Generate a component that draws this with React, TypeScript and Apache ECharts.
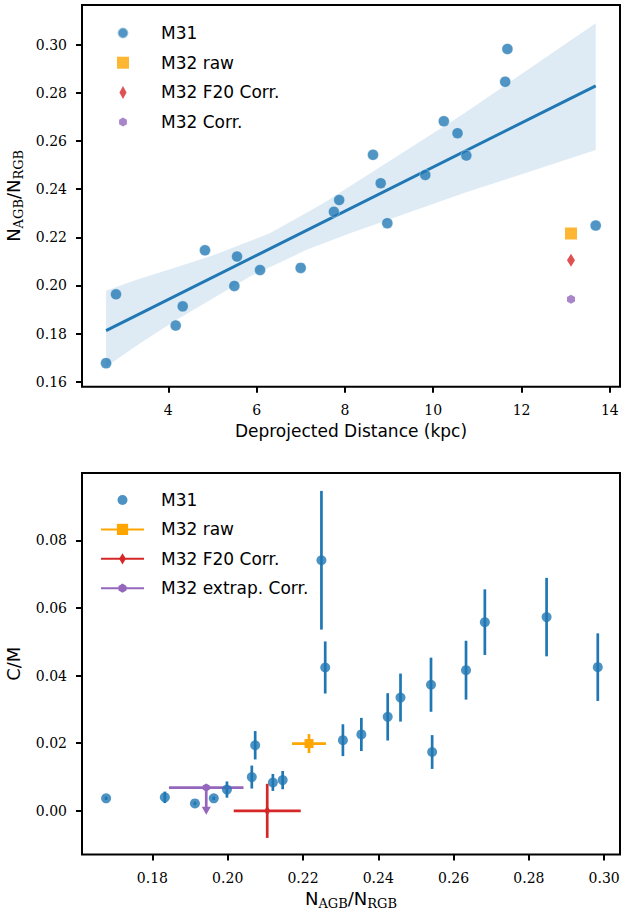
import React, { useEffect, useRef } from "react";
import * as echarts from "echarts";

// ---------- DATA ----------
// M31 fields (sorted by N_AGB/N_RGB)
const m31Distance = [2.59, 4.167, 4.326, 2.815, 5.495, 6.077, 6.998, 5.556, 4.83, 13.68, 8.96, 7.75, 7.87, 8.81, 9.82, 10.75, 8.636, 10.55, 10.24, 11.63, 11.68];
const m31Ratio = [0.1677, 0.1833, 0.1913, 0.1963, 0.1998, 0.2064, 0.2073, 0.212, 0.2146, 0.2249, 0.2259, 0.2306, 0.2355, 0.2425, 0.2459, 0.254, 0.2543, 0.2633, 0.2683, 0.2847, 0.2983];
const m31CM = [0.0037, 0.004, 0.0022, 0.0037, 0.0063, 0.01, 0.0194, 0.0084, 0.0091, 0.0741, 0.0424, 0.0209, 0.0226, 0.0278, 0.0335, 0.0373, 0.0174, 0.0416, 0.0558, 0.0573, 0.0425];
const m31CMErr = [0.0005, 0.0017, 0.0005, 0.0005, 0.0024, 0.0034, 0.0042, 0.0025, 0.0027, 0.0205, 0.0077, 0.0047, 0.0049, 0.007, 0.0071, 0.008, 0.005, 0.0087, 0.0097, 0.0116, 0.01];

// M32
const m32Distance = 13.12;
const m32RawRatio = 0.2216;
const m32RawRatioErr = 0.0045;
const m32RawCM = 0.0199;
const m32RawCMErr = 0.0028;
const m32F20Ratio = 0.2105;
const m32F20RatioErr = 0.0089;
const m32F20CM = 0.0;
const m32F20CMErr = 0.008;
const m32CorrRatio = 0.1943;
const m32CorrRatioErr = 0.0099;
const m32CorrCM = 0.0069; // upper limit
const m32CorrCMLimitLen = 0.0069;

// regression fit and confidence band (top panel)
const fitX = [2.59, 13.68];
const fitY = [0.1812, 0.283];
const bandUpperX = [2.59, 3.3, 4.11, 5.0, 5.62, 6.3, 6.91, 7.51, 10.68, 13.68];
const bandUpperY = [0.1978, 0.2025, 0.2072, 0.2125, 0.2168, 0.2217, 0.2279, 0.2342, 0.2713, 0.309];
const bandLowerX = [2.59, 3.36, 4.19, 5.85, 7.13, 8.115, 10.68, 13.68];
const bandLowerY = [0.1662, 0.176, 0.1857, 0.2037, 0.2148, 0.2217, 0.2383, 0.2563];

// ticks
const topXTicks = [4, 6, 8, 10, 12, 14];
const topYTicks = [0.16, 0.18, 0.2, 0.22, 0.24, 0.26, 0.28, 0.3];
const botXTicks = [0.18, 0.2, 0.22, 0.24, 0.26, 0.28, 0.3];
const botYTicks = [0.0, 0.02, 0.04, 0.06, 0.08];

// ---------- STYLE ----------
const BLUE = "#1f77b4";
const ORANGE = "#ffa500";
const RED = "#d62728";
const PURPLE = "#9467bd";

const circleIcon = (p: number) =>
  `path://M1,0A1,1,0,1,1,-1,0A1,1,0,1,1,1,0Z M-${p},-${p} M${p},${p}`;
const squareIcon = (p: number) => `path://M-1,-1L1,-1L1,1L-1,1Z M-${p},-${p} M${p},${p}`;
const diamondIcon = (w: number, p: number) =>
  `path://M0,-1L${w},0L0,1L-${w},0Z M-${p},-${p} M${p},${p}`;
const hexIcon = (p: number) =>
  `path://M0,-1L0.866,-0.5L0.866,0.5L0,1L-0.866,0.5L-0.866,-0.5Z M-${p},-${p} M${p},${p}`;

const tickFont = { color: "#000", fontFamily: "DejaVu Serif", fontSize: 14 };
const nameRich = {
  n: { fontFamily: "DejaVu Sans", fontSize: 18, color: "#000", lineHeight: 22, verticalAlign: "middle" },
  s: { fontFamily: "DejaVu Serif", fontSize: 13, color: "#000", lineHeight: 12, verticalAlign: "bottom" },
};
const ratioName = "{n|N}{s|AGB}{n|/N}{s|RGB}";

function axisBase(ticks: number[], fmt: (v: number) => string, margin: number) {
  return {
    type: "value",
    axisLine: { show: false, onZero: false },
    splitLine: { show: false },
    axisTick: { show: true, inside: false, length: 6, lineStyle: { color: "#000", width: 2 }, customValues: ticks },
    axisLabel: { ...tickFont, margin, customValues: ticks, formatter: (v: number) => fmt(v) },
  };
}

function errorBars(color: string, width: number) {
  return (params: any, api: any) => {
    const x = api.value(0);
    const y = api.value(1);
    const xe = api.value(2);
    const ye = api.value(3);
    const children: any[] = [];
    if (xe > 0) {
      const a = api.coord([x - xe, y]);
      const b = api.coord([x + xe, y]);
      children.push({ type: "line", shape: { x1: a[0], y1: a[1], x2: b[0], y2: b[1] }, style: { stroke: color, lineWidth: width } });
    }
    if (ye > 0) {
      const a = api.coord([x, y - ye]);
      const b = api.coord([x, y + ye]);
      children.push({ type: "line", shape: { x1: a[0], y1: a[1], x2: b[0], y2: b[1] }, style: { stroke: color, lineWidth: width } });
    }
    return { type: "group", children };
  };
}

function upperLimitBars(color: string, width: number) {
  return (params: any, api: any) => {
    const x = api.value(0);
    const y = api.value(1);
    const xe = api.value(2);
    const yl = api.value(3);
    const a = api.coord([x - xe, y]);
    const b = api.coord([x + xe, y]);
    const c = api.coord([x, y]);
    const e = api.coord([x, y - yl]);
    return {
      type: "group",
      children: [
        { type: "line", shape: { x1: a[0], y1: a[1], x2: b[0], y2: b[1] }, style: { stroke: color, lineWidth: width } },
        { type: "line", shape: { x1: c[0], y1: c[1], x2: e[0], y2: e[1] - 2 }, style: { stroke: color, lineWidth: width } },
        {
          type: "polygon",
          shape: { points: [[e[0] - 4.5, e[1] - 4], [e[0] + 4.5, e[1] - 4], [e[0], e[1] + 4]] },
          style: { fill: color },
        },
      ],
    };
  };
}

function topOption(): any {
  return {
    animation: false,
    grid: { left: 82, top: 5, width: 538, height: 381.7, show: true, borderColor: "#000", borderWidth: 2, backgroundColor: "transparent", outerBoundsMode: "none" },
    xAxis: {
      ...axisBase(topXTicks, (v) => String(v), 16),
      min: 2.045,
      max: 14.23,
      name: "Deprojected Distance (kpc)",
      nameLocation: "middle",
      nameGap: 36,
      nameTextStyle: { fontFamily: "DejaVu Sans", fontSize: 17, color: "#000" },
    },
    yAxis: {
      ...axisBase(topYTicks, (v) => v.toFixed(2), 15),
      min: 0.1579,
      max: 0.3166,
      name: ratioName,
      nameLocation: "middle",
      nameGap: 46,
      nameTextStyle: { rich: nameRich },
    },
    legend: {
      orient: "vertical",
      left: 115.5,
      top: 24,
      padding: 0,
      itemWidth: 43,
      itemHeight: 13,
      itemGap: 11.7,
      selectedMode: false,
      textStyle: { fontFamily: "DejaVu Sans", fontSize: 17, color: "#000", lineHeight: 18, padding: [0, 0, 0, 11.5] },
      data: [
        { name: "M31", icon: circleIcon(1.2) },
        { name: "M32 raw", icon: squareIcon(1.08) },
        { name: "M32 F20 Corr.", icon: diamondIcon(0.55, 1.0) },
        { name: "M32 Corr.", icon: hexIcon(1.44) },
      ],
    },
    series: [
      {
        type: "custom",
        name: "band",
        silent: true,
        z: 1,
        data: [[bandUpperX[0], bandUpperY[0]]],
        renderItem: (params: any, api: any) => {
          const pts: number[][] = [];
          for (let i = 0; i < bandUpperX.length; i++) pts.push(api.coord([bandUpperX[i], bandUpperY[i]]));
          for (let i = bandLowerX.length - 1; i >= 0; i--) pts.push(api.coord([bandLowerX[i], bandLowerY[i]]));
          return { type: "polygon", shape: { points: pts }, style: { fill: "rgba(31,119,180,0.15)" } };
        },
      },
      {
        type: "line",
        name: "fit",
        z: 2,
        symbol: "none",
        data: fitX.map((x, i) => [x, fitY[i]]),
        lineStyle: { color: BLUE, width: 3 },
      },
      {
        type: "scatter",
        name: "M31",
        z: 3,
        symbol: "circle",
        symbolSize: 11,
        data: m31Distance.map((d, i) => [d, m31Ratio[i]]),
        itemStyle: { color: "rgba(31,119,180,0.78)", borderColor: "rgba(255,255,255,0.45)", borderWidth: 0.8, opacity: 1 },
      },
      {
        type: "scatter",
        name: "M32 raw",
        z: 3,
        symbol: squareIcon(1),
        symbolSize: 12,
        data: [[m32Distance, m32RawRatio]],
        itemStyle: { color: ORANGE },
      },
      {
        type: "scatter",
        name: "M32 F20 Corr.",
        z: 3,
        symbol: "path://M0,-1L0.6,0L0,1L-0.6,0Z",
        symbolSize: [8, 13],
        data: [[m32Distance, m32F20Ratio]],
        itemStyle: { color: RED },
      },
      {
        type: "scatter",
        name: "M32 Corr.",
        z: 3,
        symbol: "path://M0,-1L0.866,-0.5L0.866,0.5L0,1L-0.866,0.5L-0.866,-0.5Z",
        symbolSize: [8, 9],
        data: [[m32Distance, m32CorrRatio]],
        itemStyle: { color: PURPLE },
      },
    ],
  };
}

function bottomOption(): any {
  return {
    animation: false,
    grid: { left: 82, top: 28, width: 538, height: 381.5, show: true, borderColor: "#000", borderWidth: 2, backgroundColor: "transparent", outerBoundsMode: "none" },
    xAxis: {
      ...axisBase(botXTicks, (v) => v.toFixed(2), 16),
      min: 0.1613,
      max: 0.3042,
      name: ratioName,
      nameLocation: "middle",
      nameGap: 33,
      nameTextStyle: { rich: nameRich },
    },
    yAxis: {
      ...axisBase(botYTicks, (v) => v.toFixed(2), 15),
      min: -0.0129,
      max: 0.0999,
      name: "C/M",
      nameLocation: "middle",
      nameGap: 48,
      nameTextStyle: { fontFamily: "DejaVu Sans", fontSize: 18, color: "#000", lineHeight: 22 },
    },
    legend: {
      orient: "vertical",
      left: 100,
      top: 46,
      padding: 0,
      itemWidth: 43,
      itemHeight: 14,
      itemGap: 11.4,
      selectedMode: false,
      textStyle: { fontFamily: "DejaVu Sans", fontSize: 17, color: "#000", lineHeight: 18, padding: [0, 0, 0, 12] },
      data: [
        { name: "M31", icon: circleIcon(1.4) },
        { name: "M32 raw" },
        { name: "M32 F20 Corr." },
        { name: "M32 extrap. Corr." },
      ],
    },
    series: [
      {
        type: "custom",
        name: "M31 err",
        z: 2,
        silent: true,
        data: m31Ratio.map((r, i) => [r, m31CM[i], 0, m31CMErr[i]]),
        renderItem: errorBars(BLUE, 2.7),
      },
      {
        type: "scatter",
        name: "M31",
        z: 3,
        symbol: "circle",
        symbolSize: 10,
        data: m31Ratio.map((r, i) => [r, m31CM[i]]),
        itemStyle: { color: BLUE },
      },
      {
        type: "custom",
        name: "M32 raw err",
        z: 2,
        silent: true,
        data: [[m32RawRatio, m32RawCM, m32RawRatioErr, m32RawCMErr]],
        renderItem: errorBars(ORANGE, 2.7),
      },
      {
        type: "line",
        name: "M32 raw",
        z: 3,
        symbol: "rect",
        symbolSize: 9,
        data: [[m32RawRatio, m32RawCM]],
        lineStyle: { color: ORANGE, width: 2.5 },
        itemStyle: { color: ORANGE },
      },
      {
        type: "custom",
        name: "M32 F20 err",
        z: 2,
        silent: true,
        data: [[m32F20Ratio, m32F20CM, m32F20RatioErr, m32F20CMErr]],
        renderItem: errorBars(RED, 2.7),
      },
      {
        type: "line",
        name: "M32 F20 Corr.",
        z: 3,
        symbol: diamondIcon(0.6, 1.0),
        symbolSize: 10,
        data: [[m32F20Ratio, m32F20CM]],
        lineStyle: { color: RED, width: 2.5 },
        itemStyle: { color: RED },
      },
      {
        type: "custom",
        name: "M32 extrap err",
        z: 2,
        silent: true,
        data: [[m32CorrRatio, m32CorrCM, m32CorrRatioErr, m32CorrCMLimitLen]],
        renderItem: upperLimitBars(PURPLE, 2.7),
      },
      {
        type: "line",
        name: "M32 extrap. Corr.",
        z: 3,
        symbol: hexIcon(1.22),
        symbolSize: 10,
        data: [[m32CorrRatio, m32CorrCM]],
        lineStyle: { color: PURPLE, width: 2.5 },
        itemStyle: { color: PURPLE },
      },
    ],
  };
}

function Chart({ option, height }: { option: any; height: number }) {
  const ref = useRef<HTMLDivElement>(null);
  useEffect(() => {
    const chart = echarts.init(ref.current as HTMLDivElement, null, { renderer: "svg" });
    chart.setOption(option);
    return () => chart.dispose();
  }, []);
  return <div ref={ref} style={{ width: 622, height }} />;
}

export default function App() {
  useEffect(() => {
    document.body.style.margin = "0";
  }, []);
  return (
    <div style={{ width: 622, height: 915, background: "#fff" }}>
      <Chart option={topOption()} height={445} />
      <Chart option={bottomOption()} height={470} />
    </div>
  );
}
